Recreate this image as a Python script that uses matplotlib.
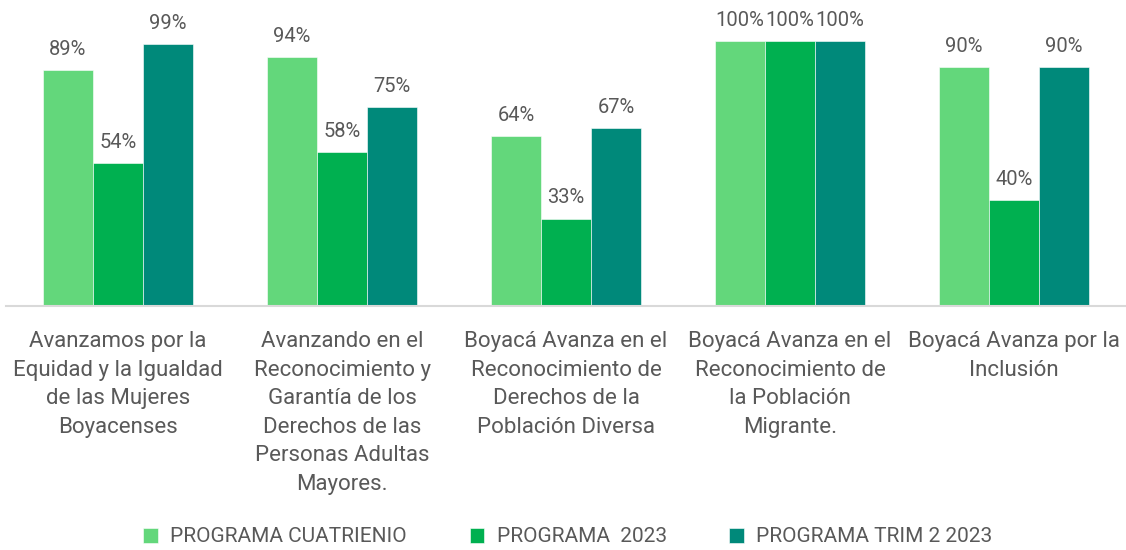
import numpy as np
import matplotlib
matplotlib.use("Agg")
import matplotlib.pyplot as plt

CATEGORIES = [
    "Avanzamos por la\nEquidad y la Igualdad\nde las Mujeres\nBoyacenses",
    "Avanzando en el\nReconocimiento y\nGarantía de los\nDerechos de las\nPersonas Adultas\nMayores.",
    "Boyacá Avanza en el\nReconocimiento de\nDerechos de la\nPoblación Diversa",
    "Boyacá Avanza en el\nReconocimiento de\nla Población\nMigrante.",
    "Boyacá Avanza por la\nInclusión",
]
SERIES = ["PROGRAMA CUATRIENIO", "PROGRAMA  2023", "PROGRAMA TRIM 2 2023"]
CUATRIENIO = [89, 94, 64, 100, 90]
PROG_2023 = [54, 58, 33, 100, 40]
TRIM2_2023 = [99, 75, 67, 100, 90]

COLORS = ["#63D77B", "#00B050", "#00897A"]
TEXT = "#595959"

plt.rcParams['font.family'] = ['Roboto', 'DejaVu Sans']

fig = plt.figure(figsize=(11.26, 5.5), dpi=100)
ax = fig.add_axes([6 / 1126, 1 - 306 / 550, 1120 / 1126, 306 / 550])

x = np.arange(len(CATEGORIES))
w = 0.223
for i, (vals, lab) in enumerate(zip([CUATRIENIO, PROG_2023, TRIM2_2023], SERIES)):
    bars = ax.bar(x + (i - 1) * w, vals, width=w, color=COLORS[i], label=lab,
                  edgecolor="white", linewidth=0.4)
    for b, v in zip(bars, vals):
        ax.annotate(f"{v}%", (b.get_x() + b.get_width() / 2, v),
                    xytext=(0, 8), textcoords="offset points",
                    ha="center", va="bottom", fontsize=14.5, color=TEXT)

ax.set_xlim(-0.5, len(CATEGORIES) - 0.5)
ax.set_ylim(0, 306 / 265 * 100)
ax.set_yticks([])
ax.set_xticks(x)
ax.set_xticklabels(CATEGORIES, fontsize=16, color=TEXT, linespacing=1.47)
ax.tick_params(axis="x", length=0, pad=18)
for s in ["top", "left", "right"]:
    ax.spines[s].set_visible(False)
ax.spines["bottom"].set_color("#D9D9D9")
ax.spines["bottom"].set_linewidth(1.5)

leg = fig.legend(loc="center", bbox_to_anchor=(568 / 1126, 1 - 537 / 550), ncol=3,
                 frameon=False, handlelength=0.7, handleheight=0.7,
                 columnspacing=3.0, handletextpad=0.6,
                 prop={'size': 15})
for t in leg.get_texts():
    t.set_color(TEXT)

fig.savefig("out.png", dpi=100)
